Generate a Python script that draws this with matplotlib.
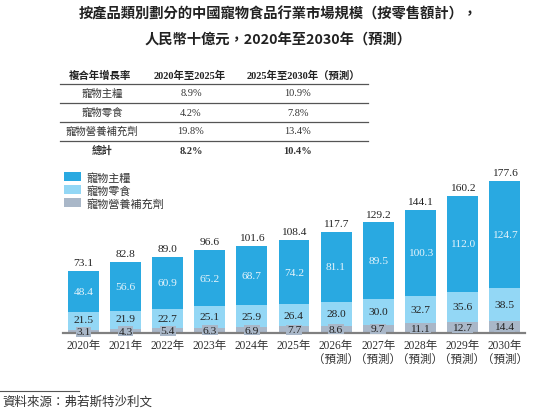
import matplotlib
matplotlib.use("Agg")
import matplotlib.pyplot as plt
import numpy as np

# data
years = ["2020年", "2021年", "2022年", "2023年", "2024年", "2025年",
         "2026年\n（預測）", "2027年\n（預測）", "2028年\n（預測）",
         "2029年\n（預測）", "2030年\n（預測）"]
main_food = [48.4, 56.6, 60.9, 65.2, 68.7, 74.2, 81.1, 89.5, 100.3, 112.0, 124.7]
snacks = [21.5, 21.9, 22.7, 25.1, 25.9, 26.4, 28.0, 30.0, 32.7, 35.6, 38.5]
supplements = [3.1, 4.3, 5.4, 6.3, 6.9, 7.7, 8.6, 9.7, 11.1, 12.7, 14.4]
totals = [73.1, 82.8, 89.0, 96.6, 101.6, 108.4, 117.7, 129.2, 144.1, 160.2, 177.6]
series_names = ["寵物主糧", "寵物零食", "寵物營養補充劑"]

cagr_header = ["複合年增長率", "2020年至2025年", "2025年至2030年（預測）"]
cagr_rows = [["寵物主糧", "8.9%", "10.9%"],
             ["寵物零食", "4.2%", "7.8%"],
             ["寵物營養補充劑", "19.8%", "13.4%"],
             ["總計", "8.2%", "10.4%"]]

c_main = "#29A9E1"
c_snack = "#93D7F5"
c_supp = "#A9B7C8"
SERIF = ["Liberation Serif", "Noto Sans CJK TC"]
SANS = ["Noto Sans CJK TC", "DejaVu Sans"]

W, H = 554, 410
fig = plt.figure(figsize=(W / 100, H / 100), dpi=100)


def px(x, y):
    return x / W, 1 - y / H


# title
fig.text(*px(278, 14), "按產品類別劃分的中國寵物食品行業市場規模（按零售額計），",
         ha="center", va="center", fontsize=10.3, fontweight="bold", family=SANS, color="#222222")
fig.text(*px(278, 40), "人民幣十億元，2020年至2030年（預測）",
         ha="center", va="center", fontsize=10.3, fontweight="bold", family=SANS, color="#222222")

# CAGR table
col_x = [102, 191, 298]
hdr_x = [100, 190, 303]
for x, t in zip(hdr_x, cagr_header):
    fig.text(*px(x, 76), t, ha="center", va="center", fontsize=7.5, fontweight="bold",
             family=SERIF, color="#222222")
row_y = [94, 113, 132, 151]
for y, row in zip(row_y, cagr_rows):
    bold = row[0] == "總計"
    for x, t in zip(col_x, row):
        fig.text(*px(x, y), t, ha="center", va="center", fontsize=7.5,
                 fontweight="bold" if bold else "normal", family=SERIF, color="#333333")
for y in [84.5, 103.5, 122.5, 142]:
    fig.add_artist(plt.Line2D([60 / W, 368 / W], [1 - y / H, 1 - y / H],
                              color="#555555", lw=0.9))

# bars
left_px, right_px, base_px, top_px = 63, 525, 334, 170
ax = fig.add_axes([left_px / W, 1 - base_px / H, (right_px - left_px) / W, (base_px - top_px) / H])
scale = 0.856
x = np.arange(len(years))
ax.set_xlim((left_px - 83.5) / 42.1, (right_px - 83.5) / 42.1)
ax.set_ylim(0, (base_px - top_px) / scale)

supp = np.array(supplements)
snk = np.array(snacks)
mn = np.array(main_food)
w = 0.735
ax.bar(x, supp, w, color=c_supp, label=series_names[2], zorder=2)
ax.bar(x, snk, w, bottom=supp, color=c_snack, label=series_names[1], zorder=2)
ax.bar(x, mn, w, bottom=supp + snk, color=c_main, label=series_names[0], zorder=2)

for i in range(len(years)):
    ax.text(x[i], supp[i] + snk[i] + mn[i] / 2, f"{main_food[i]:.1f}", ha="center", va="center",
            fontsize=8.2, color="#E6F4FB", family=SERIF, zorder=4)
    # small supplement segments push the snack label up a touch
    nudge = 1.6 if supp[i] < 5 else 0
    ax.text(x[i], supp[i] + snk[i] / 2 + nudge, f"{snacks[i]:.1f}", ha="center", va="center",
            fontsize=8.2, color="#222222", family=SERIF, zorder=4)
    ax.text(x[i], max(supp[i] / 2, 1.3), f"{supplements[i]:.1f}", ha="center", va="center",
            fontsize=8.2, color="#222222", family=SERIF, zorder=5, clip_on=False,
            bbox=dict(boxstyle="square,pad=0.05", fc=c_supp, ec="none"))
    ax.text(x[i], totals[i] + 4.5, f"{totals[i]:.1f}", ha="center", va="bottom",
            fontsize=8.2, color="#222222", family=SERIF)

for s in ["top", "right", "left"]:
    ax.spines[s].set_visible(False)
ax.spines["bottom"].set_color("#808080")
ax.spines["bottom"].set_linewidth(1.6)
ax.spines["bottom"].set_zorder(3)
ax.set_yticks([])
ax.set_xticks(x)
ax.set_xticklabels(years, fontsize=8.3, family=SERIF, color="#333333", linespacing=1.3)
ax.tick_params(axis="x", length=0, pad=4)
for lbl in ax.get_xticklabels():
    lbl.set_verticalalignment("top")

# legend
handles, labels = ax.get_legend_handles_labels()
fig.legend(handles[::-1], labels[::-1], loc="upper left", bbox_to_anchor=px(55, 164),
           frameon=False, prop={"family": SERIF, "size": 8}, handlelength=1.55,
           handleheight=0.85, handletextpad=0.5, labelspacing=0.2, labelcolor="#333333",
           borderpad=0.3)

# source
fig.add_artist(plt.Line2D([0, 79 / W], [1 - 392 / H, 1 - 392 / H], color="#555555", lw=0.8))
fig.text(*px(2, 403), "資料來源：弗若斯特沙利文", ha="left", va="center", fontsize=9,
         family=SERIF, style="italic", color="#333333")

fig.savefig("out.png", dpi=100)
